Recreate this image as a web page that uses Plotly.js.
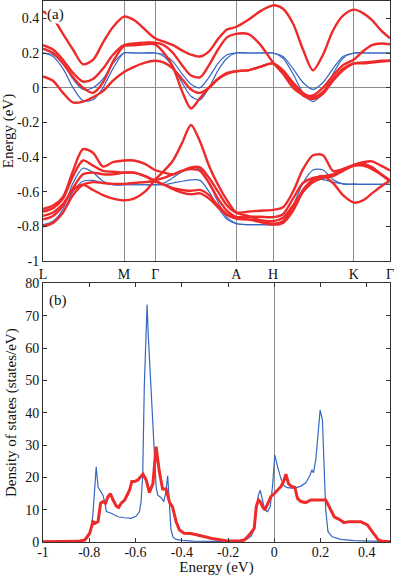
<!DOCTYPE html>
<html>
<head>
<meta charset="utf-8">
<script src="https://cdn.plot.ly/plotly-3.0.1.min.js"></script>
<style>
  body { margin: 0; background: #fff; }
  #chart { width: 395px; height: 576px; }
</style>
</head>
<body>
<div id="chart"></div>
<script>
// k-path (path length) and high-symmetry points
const kPath = [0, 0.10, 0.20, 0.30, 0.40, 0.50, 0.60, 0.70, 0.81, 0.91, 1.02, 1.12,
  1.21, 1.30, 1.39, 1.48, 1.57, 1.66, 1.75, 1.84, 1.93,
  2.05, 2.17, 2.30,
  2.40, 2.50, 2.60, 2.70, 2.80, 2.90, 3.00, 3.11,
  3.20, 3.29, 3.38, 3.47];
const hsymK = [0, 0.81, 1.123, 1.933, 2.30, 3.107, 3.47];
const hsymLabels = ['L', 'M', 'Γ', 'A', 'H', 'K', 'Γ'];

// bands near the Fermi level (eV)
const red1 = [0.44, 0.40, 0.31, 0.22, 0.135, 0.16, 0.26, 0.35, 0.41, 0.39, 0.335, 0.285,
  0.265, 0.245, 0.215, 0.19, 0.18, 0.21, 0.28, 0.335, 0.35,
  0.39, 0.44, 0.475,
  0.455, 0.37, 0.22, 0.10, 0.19, 0.33, 0.415, 0.45,
  0.43, 0.39, 0.33, 0.285];
const red2 = [0.245, 0.22, 0.16, 0.085, 0.035, 0.05, 0.11, 0.19, 0.245, 0.255, 0.26, 0.26,
  0.245, 0.2, 0.13, 0.07, 0.06, 0.13, 0.22, 0.29, 0.31,
  0.31, 0.25, 0.145,
  0.08, 0.0, -0.04, -0.045, 0.0, 0.07, 0.13, 0.163,
  0.21, 0.245, 0.255, 0.25];
const red3 = [0.225, 0.2, 0.14, 0.06, 0.0, -0.03, 0.03, 0.15, 0.24, 0.245, 0.25, 0.25,
  0.2, 0.12, -0.02, -0.12, -0.06, 0.0, 0.05, 0.085, 0.095,
  0.1, 0.12, 0.14,
  0.1, 0.03, -0.03, -0.055, -0.025, 0.05, 0.11, 0.14,
  0.14, 0.145, 0.15, 0.155];
const red4 = [0.065, 0.04, -0.03, -0.085, -0.08, -0.055, -0.02, 0.04, 0.09, 0.12, 0.145, 0.155,
  0.145, 0.11, 0.05, -0.01, -0.03, 0.0, 0.05, 0.08, 0.095,
  0.1, 0.12, 0.14,
  0.09, 0.02, -0.045, -0.065, -0.035, 0.04, 0.1, 0.14,
  0.145, 0.15, 0.155, 0.155];
const blue1 = [0.2, 0.19, 0.14, 0.05, -0.01, 0.0, 0.05, 0.14, 0.2, 0.2, 0.2, 0.2,
  0.19, 0.15, 0.08, 0.02, 0.0, 0.06, 0.14, 0.19, 0.2,
  0.2, 0.2, 0.2,
  0.18, 0.11, 0.03, -0.01, 0.03, 0.11, 0.18, 0.2,
  0.2, 0.2, 0.2, 0.2];
const blue2 = [0.2, 0.18, 0.11, 0.0, -0.075, -0.07, 0.0, 0.11, 0.2, 0.2, 0.2, 0.2,
  0.18, 0.12, 0.03, -0.05, -0.07, 0.0, 0.1, 0.17, 0.2,
  0.2, 0.2, 0.2,
  0.17, 0.08, -0.03, -0.08, -0.03, 0.08, 0.17, 0.2,
  0.2, 0.2, 0.2, 0.2];

// lower bands (eV)
const red5 = [-0.70, -0.68, -0.63, -0.48, -0.355, -0.375, -0.455, -0.43, -0.42, -0.42, -0.44, -0.475,
  -0.49, -0.5, -0.48, -0.46, -0.46, -0.52, -0.6, -0.68, -0.72,
  -0.715, -0.71, -0.705,
  -0.69, -0.6, -0.47, -0.39, -0.39, -0.48, -0.47, -0.445,
  -0.43, -0.425, -0.45, -0.478];
const red6 = [-0.715, -0.695, -0.64, -0.51, -0.42, -0.45, -0.48, -0.485, -0.49, -0.49, -0.51, -0.532,
  -0.52, -0.5, -0.48, -0.47, -0.48, -0.55, -0.64, -0.71, -0.745,
  -0.745, -0.745, -0.747,
  -0.73, -0.64, -0.55, -0.52, -0.515, -0.505, -0.475, -0.445,
  -0.44, -0.46, -0.5, -0.536];
const red7 = [-0.74, -0.72, -0.67, -0.59, -0.56, -0.59, -0.62, -0.64, -0.65, -0.64, -0.6, -0.532,
  -0.48, -0.42, -0.32, -0.215, -0.31, -0.45, -0.56, -0.65, -0.72,
  -0.74, -0.765, -0.785,
  -0.77, -0.69, -0.59, -0.53, -0.51, -0.55, -0.62, -0.663,
  -0.65, -0.61, -0.57, -0.536];
const red8 = [-0.76, -0.74, -0.68, -0.58, -0.5, -0.49, -0.5, -0.5, -0.49, -0.49, -0.51, -0.54,
  -0.56, -0.58, -0.59, -0.595, -0.59, -0.62, -0.68, -0.73, -0.753,
  -0.76, -0.775, -0.79,
  -0.78, -0.71, -0.6, -0.53, -0.51, -0.5, -0.47, -0.45,
  -0.45, -0.47, -0.5, -0.536];
const red9 = [-0.80, -0.78, -0.72, -0.62, -0.56, -0.545, -0.55, -0.555, -0.555, -0.55, -0.545, -0.54,
  -0.56, -0.585, -0.605, -0.615, -0.61, -0.64, -0.69, -0.735, -0.755,
  -0.76, -0.765, -0.77,
  -0.75, -0.68, -0.6, -0.545, -0.52, -0.51, -0.48, -0.45,
  -0.44, -0.46, -0.5, -0.54];
const blue3 = [-0.79, -0.77, -0.7, -0.55, -0.465, -0.49, -0.54, -0.56, -0.56, -0.56, -0.56, -0.56,
  -0.55, -0.52, -0.485, -0.465, -0.47, -0.55, -0.66, -0.75, -0.782,
  -0.79, -0.79, -0.79,
  -0.77, -0.68, -0.55, -0.475, -0.475, -0.53, -0.555, -0.557,
  -0.558, -0.558, -0.558, -0.558];
const blue4 = [-0.80, -0.78, -0.72, -0.6, -0.54, -0.535, -0.55, -0.56, -0.56, -0.56, -0.56, -0.56,
  -0.56, -0.55, -0.54, -0.532, -0.535, -0.6, -0.69, -0.76, -0.785,
  -0.79, -0.79, -0.79,
  -0.78, -0.71, -0.6, -0.54, -0.53, -0.545, -0.555, -0.557,
  -0.558, -0.558, -0.558, -0.558];

// density of states
const dosBlueE = [-1, -0.9, -0.84, -0.82, -0.808, -0.795, -0.785, -0.777, -0.77, -0.762, -0.755, -0.741,
  -0.732, -0.726, -0.705, -0.676, -0.647, -0.619, -0.597, -0.583, -0.576, -0.569, -0.562, -0.554,
  -0.55, -0.545, -0.54, -0.532, -0.525, -0.518, -0.511, -0.504, -0.49, -0.478, -0.47, -0.461,
  -0.455, -0.447, -0.438, -0.425, -0.4, -0.35, -0.25, -0.15, -0.12, -0.1, -0.087, -0.077,
  -0.069, -0.061, -0.051, -0.041, -0.029, -0.018, -0.008, 0.002, 0.014, 0.028, 0.043, 0.057,
  0.086, 0.115, 0.136, 0.155, 0.162, 0.169, 0.179, 0.189, 0.198, 0.208, 0.215, 0.222,
  0.232, 0.25, 0.287, 0.345, 0.42, 0.5];
const dosBlue = [0.2, 0.2, 0.3, 0.6, 1.1, 3, 8, 16, 23.3, 17, 16, 14.5,
  12, 9.4, 8.9, 7.8, 7.5, 7.3, 8, 9.4, 12.5, 20.7, 48.5, 69,
  73.5, 64, 57, 49, 39, 27, 17, 14.5, 13.8, 12.5, 15, 20.5,
  14, 4, 1.5, 0.8, 0.5, 0.3, 0.2, 0.3, 0.8, 1.8, 4, 9,
  14.5, 16, 13, 9.9, 9.4, 10.9, 17.1, 26.9, 23.3, 19.7, 17.3, 16.8,
  16.6, 17.3, 18.3, 20.7, 22.3, 21.4, 25.3, 33.6, 40.8, 37.7, 25.3, 9.9,
  3.2, 1.6, 0.8, 0.4, 0.3, 0.2];
const dosRedE = [-1, -0.9, -0.85, -0.82, -0.798, -0.784, -0.774, -0.762, -0.751, -0.741, -0.73, -0.719,
  -0.709, -0.697, -0.683, -0.673, -0.662, -0.647, -0.636, -0.626, -0.616, -0.604, -0.59, -0.568,
  -0.554, -0.54, -0.525, -0.511, -0.497, -0.483, -0.468, -0.453, -0.44, -0.424, -0.41, -0.39,
  -0.36, -0.33, -0.3, -0.27, -0.23, -0.2, -0.15, -0.13, -0.108, -0.087, -0.078, -0.069,
  -0.061, -0.051, -0.041, -0.029, -0.015, 0.0, 0.014, 0.028, 0.04, 0.05, 0.061, 0.072,
  0.089, 0.1, 0.115, 0.136, 0.158, 0.179, 0.2, 0.222, 0.237, 0.259, 0.28, 0.301,
  0.323, 0.345, 0.374, 0.402, 0.43, 0.45, 0.47, 0.5];
const dosRed = [0.1, 0.1, 0.2, 0.6, 2.7, 6.3, 5.8, 6.3, 12, 12.5, 12, 14,
  15, 13, 11.1, 10.7, 12, 13, 14.5, 16, 18.7, 18.7, 19.2, 21,
  19.2, 15.3, 18, 29.5, 21.7, 16.4, 16.4, 12.3, 10.8, 6.2, 3.7, 2.7,
  2.6, 2.2, 1.6, 1.1, 0.6, 0.3, 0.3, 0.6, 2.2, 4.2, 11, 13,
  12.5, 10.9, 9.9, 12, 14, 15, 16, 17.1, 18.7, 21, 18.1, 17.3,
  16.9, 13.5, 12.5, 12.2, 13, 13, 12.8, 13, 10.9, 7.8, 7, 6,
  6.3, 6.3, 6.3, 5.3, 2.7, 0.6, 0.2, 0.1];

// tick labels
const bandTickVals = [-1, -0.8, -0.6, -0.4, -0.2, 0, 0.2, 0.4];
const bandTickText = ['-1', '-0.8', '-0.6', '-0.4', '-0.2', '0', '0.2', '0.4'];
const dosTickVals = [-1, -0.8, -0.6, -0.4, -0.2, 0, 0.2, 0.4];
const dosTickText = ['-1', '-0.8', '-0.6', '-0.4', '-0.2', '0', '0.2', '0.4'];
const dosYTicks = [0, 10, 20, 30, 40, 50, 60, 70, 80];

const RED = '#ee2a2a';
const BLUE = '#3566c0';

function bandTrace(e, color, width) {
  return {
    x: kPath, y: e, xaxis: 'x', yaxis: 'y',
    mode: 'lines', hoverinfo: 'skip',
    line: {color: color, width: width, shape: 'spline', smoothing: 0.8}
  };
}

const traces = [];
[blue1, blue2, blue3, blue4].forEach(b => traces.push(bandTrace(b, BLUE, 1.2)));
[red1, red2, red3, red4, red5, red6, red7, red8, red9].forEach(b => traces.push(bandTrace(b, RED, 2.4)));

traces.push({
  x: dosBlueE, y: dosBlue, xaxis: 'x2', yaxis: 'y2',
  mode: 'lines', hoverinfo: 'skip',
  line: {color: BLUE, width: 1.2}
});
traces.push({
  x: dosRedE, y: dosRed, xaxis: 'x2', yaxis: 'y2',
  mode: 'lines', hoverinfo: 'skip',
  line: {color: RED, width: 3}
});

const axisBase = {
  showline: true, linecolor: '#333', linewidth: 1,
  showgrid: false, tickcolor: '#333'
};

const layout = {
  width: 395, height: 576,
  margin: {l: 43, r: 5, t: 1, b: 34},
  paper_bgcolor: '#fff', plot_bgcolor: '#fff',
  showlegend: false,
  font: {family: '"Liberation Serif", "Times New Roman", serif', size: 14, color: '#111'},
  xaxis: Object.assign({}, axisBase, {
    domain: [0, 1], anchor: 'y', range: [0, 3.47],
    tickmode: 'array', tickvals: hsymK, ticktext: hsymLabels,
    ticks: '', showgrid: true, gridcolor: '#8c8c8c', gridwidth: 1,
    zeroline: false, mirror: true
  }),
  yaxis: Object.assign({}, axisBase, {
    domain: [0.5194, 1], anchor: 'x', range: [-1, 0.5],
    tickmode: 'array', tickvals: bandTickVals, ticktext: bandTickText,
    ticks: 'inside', ticklen: 4, mirror: 'ticks',
    zeroline: true, zerolinecolor: '#8c8c8c', zerolinewidth: 1,
    title: {text: 'Energy (eV)', font: {size: 15}, standoff: 4}
  }),
  xaxis2: Object.assign({}, axisBase, {
    domain: [0, 1], anchor: 'y2', range: [-1, 0.5],
    tickmode: 'array', tickvals: dosTickVals, ticktext: dosTickText,
    ticks: 'inside', ticklen: 4, mirror: 'ticks', ticklabelstandoff: -3,
    zeroline: true, zerolinecolor: '#8c8c8c', zerolinewidth: 1,
    title: {text: 'Energy (eV)', font: {size: 15}, standoff: 0}
  }),
  yaxis2: Object.assign({}, axisBase, {
    domain: [0, 0.478], anchor: 'x2', range: [0, 80],
    tickmode: 'array', tickvals: dosYTicks,
    ticks: 'inside', ticklen: 4, mirror: 'ticks', zeroline: false,
    title: {text: 'Density of states (states/eV)', font: {size: 15}, standoff: 4}
  }),
  annotations: [
    {text: '(a)', xref: 'x domain', yref: 'y domain', x: 0.008, y: 0.985,
     xanchor: 'left', yanchor: 'top', showarrow: false, font: {size: 15},
     bgcolor: '#fff', borderpad: 0},
    {text: '(b)', xref: 'x2 domain', yref: 'y2 domain', x: 0.012, y: 0.975,
     xanchor: 'left', yanchor: 'top', showarrow: false, font: {size: 15}}
  ]
};

Plotly.newPlot('chart', traces, layout, {displayModeBar: false, staticPlot: true});
</script>
</body>
</html>
